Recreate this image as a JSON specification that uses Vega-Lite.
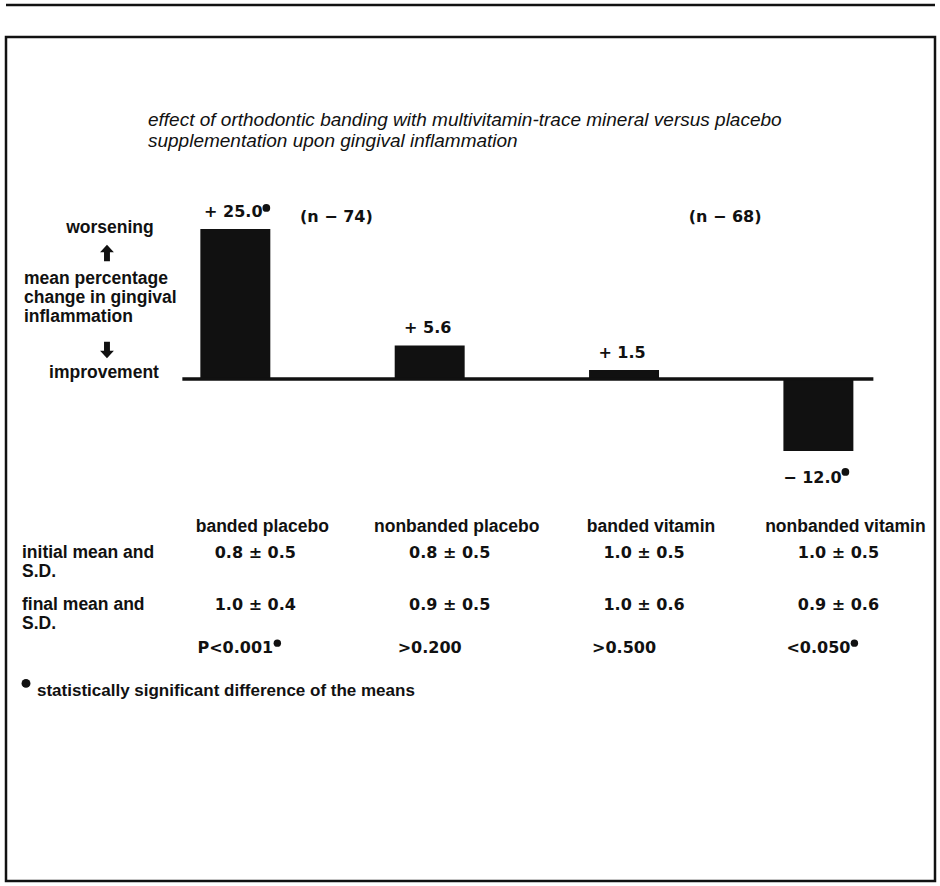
{
  "$schema": "https://vega.github.io/schema/vega-lite/v6.json",
  "width": 929,
  "height": 844,
  "autosize": {"type": "none"},
  "padding": {"left": 6, "top": 37, "right": 5, "bottom": 5},
  "background": "white",
  "config": {
    "view": {"stroke": "#111", "strokeWidth": 2.5},
    "text": {"font": "Liberation Sans", "fontWeight": "bold", "fontSize": 17.5, "color": "#111"}
  },
  "datasets": {
    "bars": [
      {"group": "banded placebo", "value": 25.0, "label": "+ 25.0", "sig": true},
      {"group": "nonbanded placebo", "value": 5.6, "label": "+ 5.6", "sig": false},
      {"group": "banded vitamin", "value": 1.5, "label": "+ 1.5", "sig": false},
      {"group": "nonbanded vitamin", "value": -12.0, "label": "− 12.0", "sig": true}
    ],
    "nlabels": [
      {"group": "banded placebo", "text": "(n − 74)"},
      {"group": "banded vitamin", "text": "(n − 68)"}
    ],
    "one": [{}],
    "table": [
      {"group": "banded placebo", "row": "header", "text": "banded placebo", "sig": false},
      {"group": "nonbanded placebo", "row": "header", "text": "nonbanded placebo", "sig": false},
      {"group": "banded vitamin", "row": "header", "text": "banded vitamin", "sig": false},
      {"group": "nonbanded vitamin", "row": "header", "text": "nonbanded vitamin", "sig": false},
      {"group": "banded placebo", "row": "initial", "text": "0.8 ± 0.5", "sig": false},
      {"group": "nonbanded placebo", "row": "initial", "text": "0.8 ± 0.5", "sig": false},
      {"group": "banded vitamin", "row": "initial", "text": "1.0 ± 0.5", "sig": false},
      {"group": "nonbanded vitamin", "row": "initial", "text": "1.0 ± 0.5", "sig": false},
      {"group": "banded placebo", "row": "final", "text": "1.0 ± 0.4", "sig": false},
      {"group": "nonbanded placebo", "row": "final", "text": "0.9 ± 0.5", "sig": false},
      {"group": "banded vitamin", "row": "final", "text": "1.0 ± 0.6", "sig": false},
      {"group": "nonbanded vitamin", "row": "final", "text": "0.9 ± 0.6", "sig": false},
      {"group": "banded placebo", "row": "p", "text": "P<0.001", "sig": true},
      {"group": "nonbanded placebo", "row": "p", "text": ">0.200", "sig": false},
      {"group": "banded vitamin", "row": "p", "text": ">0.500", "sig": false},
      {"group": "nonbanded vitamin", "row": "p", "text": "<0.050", "sig": true}
    ],
    "rowlabels": [
      {"group": "label", "row": "initial", "text": "initial mean and\nS.D."},
      {"group": "label", "row": "final", "text": "final mean and\nS.D."},
      {"group": "label", "row": "note", "text": "statistically significant difference of the means"}
    ]
  },
  "layer": [
    {
      "layer": [
        {
          "data": {"name": "bars"},
          "mark": {"type": "bar", "color": "#111"},
          "encoding": {
            "x": {"field": "group", "type": "nominal", "scale": {"domain": ["label", "banded placebo", "nonbanded placebo", "banded vitamin", "nonbanded vitamin"], "paddingInner": 0.64, "paddingOuter": 0.21, "align": 0}, "axis": null},
            "y": {"field": "value", "type": "quantitative", "scale": {"domain": [-83.67, 57], "nice": false, "zero": false}, "axis": null},
            "y2": {"datum": 0}
          }
        },
        {
          "data": {"name": "one"},
          "mark": {"type": "rule", "color": "#111", "strokeWidth": 3.5, "xOffset": -18, "x2Offset": 20},
          "encoding": {
            "x": {"datum": "banded placebo", "type": "nominal", "bandPosition": 0},
            "x2": {"datum": "nonbanded vitamin", "bandPosition": 1},
            "y": {"datum": 0, "type": "quantitative"}
          }
        },
        {
          "data": {"name": "one"},
          "mark": {"type": "rule", "color": "#111", "strokeWidth": 2.5},
          "encoding": {"y": {"datum": 62.33, "type": "quantitative"}}
        },
        {
          "data": {"name": "bars"},
          "transform": [{"filter": "datum.value > 0"}],
          "mark": {"type": "text", "font": "DejaVu Sans", "fontSize": 16, "baseline": "middle", "dy": -17, "dx": -2},
          "encoding": {
            "x": {"field": "group", "type": "nominal"},
            "y": {"field": "value", "type": "quantitative"},
            "text": {"field": "label"}
          }
        },
        {
          "data": {"name": "bars"},
          "transform": [{"filter": "datum.value < 0"}],
          "mark": {"type": "text", "font": "DejaVu Sans", "fontSize": 16, "baseline": "middle", "dy": 27, "dx": -6},
          "encoding": {
            "x": {"field": "group", "type": "nominal"},
            "y": {"field": "value", "type": "quantitative"},
            "text": {"field": "label"}
          }
        },
        {
          "data": {"name": "bars"},
          "transform": [{"filter": "datum.sig && datum.value > 0"}],
          "mark": {"type": "point", "shape": "circle", "filled": true, "opacity": 1, "size": 60, "color": "#111", "xOffset": 31, "yOffset": -21},
          "encoding": {
            "x": {"field": "group", "type": "nominal"},
            "y": {"field": "value", "type": "quantitative"}
          }
        },
        {
          "data": {"name": "bars"},
          "transform": [{"filter": "datum.sig && datum.value < 0"}],
          "mark": {"type": "point", "shape": "circle", "filled": true, "opacity": 1, "size": 60, "color": "#111", "xOffset": 27, "yOffset": 21},
          "encoding": {
            "x": {"field": "group", "type": "nominal"},
            "y": {"field": "value", "type": "quantitative"}
          }
        },
        {
          "data": {"name": "nlabels"},
          "mark": {"type": "text", "font": "DejaVu Sans", "fontSize": 16, "baseline": "middle", "dx": 101},
          "encoding": {
            "x": {"field": "group", "type": "nominal"},
            "y": {"datum": 27, "type": "quantitative"},
            "text": {"field": "text"}
          }
        },
        {
          "data": {"name": "one"},
          "mark": {"type": "text", "baseline": "middle", "dx": 69},
          "encoding": {
            "x": {"datum": "label", "type": "nominal"},
            "y": {"datum": 25.17, "type": "quantitative"},
            "text": {"value": "worsening"}
          }
        },
        {
          "data": {"name": "one"},
          "mark": {"type": "text", "baseline": "middle", "align": "left", "dx": -17, "lineHeight": 19},
          "encoding": {
            "x": {"datum": "label", "type": "nominal"},
            "y": {"datum": 16.67, "type": "quantitative"},
            "text": {"value": ["mean percentage", "change in gingival", "inflammation"]}
          }
        },
        {
          "data": {"name": "one"},
          "mark": {"type": "text", "baseline": "middle", "dx": 63},
          "encoding": {
            "x": {"datum": "label", "type": "nominal"},
            "y": {"datum": 1, "type": "quantitative"},
            "text": {"value": "improvement"}
          }
        },
        {
          "data": {"name": "one"},
          "mark": {"type": "point", "filled": true, "opacity": 1, "color": "#111", "size": 270, "xOffset": 66, "shape": "M-0.36,1L0.36,1L0.36,-0.1L0.84,-0.1L0,-1L-0.84,-0.1L-0.36,-0.1Z"},
          "encoding": {
            "x": {"datum": "label", "type": "nominal"},
            "y": {"datum": 21, "type": "quantitative"}
          }
        },
        {
          "data": {"name": "one"},
          "mark": {"type": "point", "filled": true, "opacity": 1, "color": "#111", "size": 270, "xOffset": 66, "shape": "M-0.36,-1L0.36,-1L0.36,0.1L0.84,0.1L0,1L-0.84,0.1L-0.36,0.1Z"},
          "encoding": {
            "x": {"datum": "label", "type": "nominal"},
            "y": {"datum": 4.83, "type": "quantitative"}
          }
        },
        {
          "data": {"name": "one"},
          "mark": {"type": "text", "baseline": "middle", "align": "left", "dx": 107, "fontStyle": "italic", "fontWeight": "normal", "fontSize": 19, "lineHeight": 21},
          "encoding": {
            "x": {"datum": "label", "type": "nominal"},
            "y": {"datum": 43.17, "type": "quantitative"},
            "text": {"value": ["effect of orthodontic banding with multivitamin-trace mineral versus placebo", "supplementation upon gingival inflammation"]}
          }
        }
      ]
    },
    {
      "layer": [
        {
          "data": {"name": "table"},
          "transform": [{"filter": "datum.row == 'header'"}],
          "mark": {"type": "text", "baseline": "middle", "dx": 27},
          "encoding": {
            "x": {"field": "group", "type": "nominal"},
            "y": {"field": "row", "type": "nominal", "scale": {"type": "point", "domain": ["header", "h1", "h2", "initial", "i1", "i2", "i3", "i4", "i5", "final", "f1", "f2", "f3", "f4", "p", "p1", "p2", "p3", "p4", "note"], "range": [490, 654.4], "padding": 0}, "axis": null},
            "text": {"field": "text"}
          }
        },
        {
          "data": {"name": "table"},
          "transform": [{"filter": "datum.row == 'initial' || datum.row == 'final'"}],
          "mark": {"type": "text", "baseline": "middle", "dx": 20, "font": "DejaVu Sans", "fontSize": 16},
          "encoding": {
            "x": {"field": "group", "type": "nominal"},
            "y": {"field": "row", "type": "nominal"},
            "text": {"field": "text"}
          }
        },
        {
          "data": {"name": "table"},
          "transform": [{"filter": "datum.row == 'p'"}],
          "mark": {"type": "text", "baseline": "middle", "dx": 0, "font": "DejaVu Sans", "fontSize": 16},
          "encoding": {
            "x": {"field": "group", "type": "nominal"},
            "y": {"field": "row", "type": "nominal"},
            "text": {"field": "text"}
          }
        },
        {
          "data": {"name": "table"},
          "transform": [{"filter": "datum.row == 'p' && datum.sig && datum.group == 'banded placebo'"}],
          "mark": {"type": "point", "shape": "circle", "filled": true, "opacity": 1, "size": 55, "color": "#111", "xOffset": 42, "yOffset": -5},
          "encoding": {
            "x": {"field": "group", "type": "nominal"},
            "y": {"field": "row", "type": "nominal"}
          }
        },
        {
          "data": {"name": "table"},
          "transform": [{"filter": "datum.row == 'p' && datum.sig && datum.group != 'banded placebo'"}],
          "mark": {"type": "point", "shape": "circle", "filled": true, "opacity": 1, "size": 55, "color": "#111", "xOffset": 36, "yOffset": -5},
          "encoding": {
            "x": {"field": "group", "type": "nominal"},
            "y": {"field": "row", "type": "nominal"}
          }
        },
        {
          "data": {"name": "rowlabels"},
          "transform": [{"filter": "datum.row != 'note'"}],
          "mark": {"type": "text", "baseline": "middle", "align": "left", "dx": -19, "lineHeight": 19, "lineBreak": "\n"},
          "encoding": {
            "x": {"field": "group", "type": "nominal"},
            "y": {"field": "row", "type": "nominal"},
            "text": {"field": "text"}
          }
        },
        {
          "data": {"name": "rowlabels"},
          "transform": [{"filter": "datum.row == 'note'"}],
          "mark": {"type": "text", "baseline": "middle", "align": "left", "dx": -4, "fontSize": 17},
          "encoding": {
            "x": {"field": "group", "type": "nominal"},
            "y": {"field": "row", "type": "nominal"},
            "text": {"field": "text"}
          }
        },
        {
          "data": {"name": "one"},
          "mark": {"type": "point", "shape": "circle", "filled": true, "opacity": 1, "size": 80, "color": "#111", "xOffset": -15, "yOffset": -8},
          "encoding": {
            "x": {"datum": "label", "type": "nominal"},
            "y": {"datum": "note", "type": "nominal"}
          }
        }
      ]
    }
  ],
  "resolve": {"scale": {"y": "independent"}}
}
